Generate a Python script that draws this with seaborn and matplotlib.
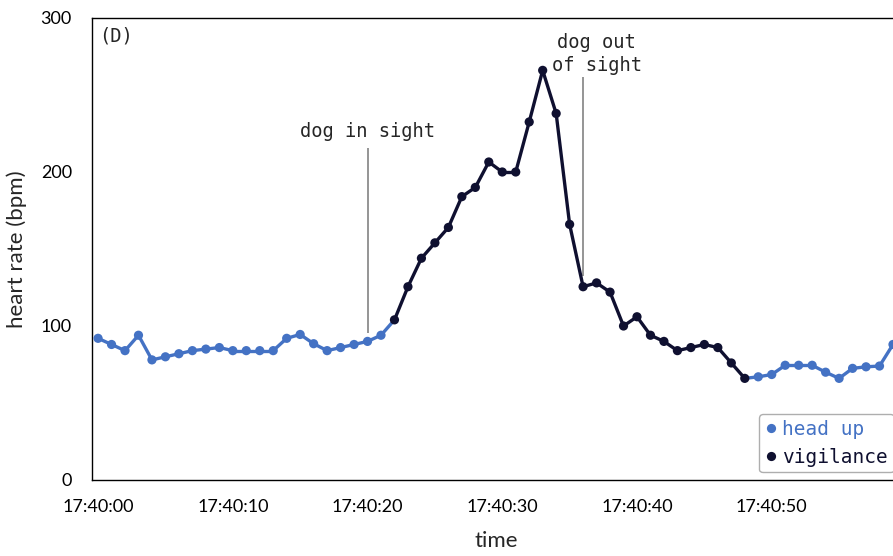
import matplotlib
matplotlib.use("Agg")
import matplotlib.pyplot as plt
import pandas as pd
import seaborn as sns

# -------------------- Data -------------------- #
seconds = list(range(60))
heart_rate = [92, 88, 84, 94, 78, 80, 82, 84, 85, 86, 84, 84, 84, 84,
              92, 94.5, 88.5, 84, 86, 88, 90, 94,
              104, 125.5, 144, 154, 164, 184, 190, 206.5, 200, 200, 232.5, 266,
              238, 166, 125.5, 128, 122, 100, 106, 94, 90, 84, 86, 88, 86, 76, 66,
              67, 68.5, 74.5, 74.5, 74.5, 70, 66, 72.5, 73.5, 74, 88]
state = ["head up"] * 22 + ["vigilance"] * 27 + ["head up"] * 11
tick_seconds = [0, 10, 20, 30, 40, 50]
tick_labels = ["17:40:00", "17:40:10", "17:40:20", "17:40:30", "17:40:40", "17:40:50"]
y_ticks = [0, 100, 200, 300]
event_labels = ["dog in sight", "dog out\nof sight"]
event_seconds = [20, 36]

palette = {"head up": "#4472C4", "vigilance": "#0f1030"}
spaced_font = "DejaVu Sans Mono"

# -------------------- Build tables -------------------- #
points = pd.DataFrame({"t": seconds, "hr": heart_rate, "state": state})

# each segment is black only when both its ends are in vigilance
rows = []
for i in range(len(seconds) - 1):
    kind = "vigilance" if state[i] == state[i + 1] == "vigilance" else "head up"
    rows.append({"seg": i, "t": seconds[i], "hr": heart_rate[i], "state": kind})
    rows.append({"seg": i, "t": seconds[i + 1], "hr": heart_rate[i + 1], "state": kind})
segments = pd.DataFrame(rows)

# -------------------- Plot -------------------- #
sns.set_style("white")
plt.rcParams["font.family"] = ["Lato", "DejaVu Sans"]

fig = plt.figure(figsize=(8.93, 5.56), dpi=100)
ax = fig.add_axes([92 / 893, 1 - 480 / 556, 0.9045, 462 / 556])

sns.lineplot(data=segments, x="t", y="hr", hue="state", units="seg", estimator=None,
             palette=palette, linewidth=2.4, legend=False, ax=ax, zorder=2)
sns.scatterplot(data=points, x="t", y="hr", hue="state", palette=palette,
                s=44, edgecolor="none", ax=ax, zorder=3)

ax.set_xlim(-0.45, 59.5)
ax.set_ylim(0, 300)
ax.set_xticks(tick_seconds)
ax.set_xticklabels(tick_labels)
ax.set_yticks(y_ticks)
ax.tick_params(axis="x", length=0, pad=14, labelsize=13, colors="black")
ax.tick_params(axis="y", length=0, pad=14.5, labelsize=13, colors="black")
for sp in ax.spines.values():
    sp.set_color("black")
    sp.set_linewidth(1.0)

ax.set_xlabel("time", fontsize=16)
ax.set_ylabel("heart rate (bpm)", fontsize=16)
ax.xaxis.set_label_coords(0.501, -0.111)
ax.yaxis.set_label_coords(-0.08, 0.5)

# event markers
ax.vlines(event_seconds[0], 95.5, 215.6, color="#8c8c8c", linewidth=1.3, zorder=1)
ax.vlines(event_seconds[1], 132.5, 261.7, color="#8c8c8c", linewidth=1.3, zorder=1)
ax.text(event_seconds[0], 226.5, event_labels[0], ha="center", va="center",
        family=spaced_font, fontsize=13.5)
ax.text(event_seconds[1] + 1, 276.5, event_labels[1], ha="center", va="center",
        multialignment="center", linespacing=1.25, family=spaced_font, fontsize=13.5)
ax.text(0.0087, 288, "(D)", transform=ax.get_yaxis_transform(), ha="left", va="center",
        family=spaced_font, fontsize=13.5)

# legend
handles, labels = ax.get_legend_handles_labels()
leg = ax.legend(handles, labels, loc="upper left", bbox_to_anchor=(759 / 893, 1 - 414 / 556),
                bbox_transform=fig.transFigure, borderaxespad=0, frameon=True,
                fancybox=True, edgecolor="#9a9a9a", handlelength=0.6, handletextpad=0.3,
                borderpad=0.3, labelspacing=0.45, prop={"family": spaced_font, "size": 14},
                markerscale=1.0)
leg.get_frame().set_linewidth(1.0)
for txt, lab in zip(leg.get_texts(), labels):
    txt.set_color(palette[lab])

fig.savefig("out.png", dpi=100)
